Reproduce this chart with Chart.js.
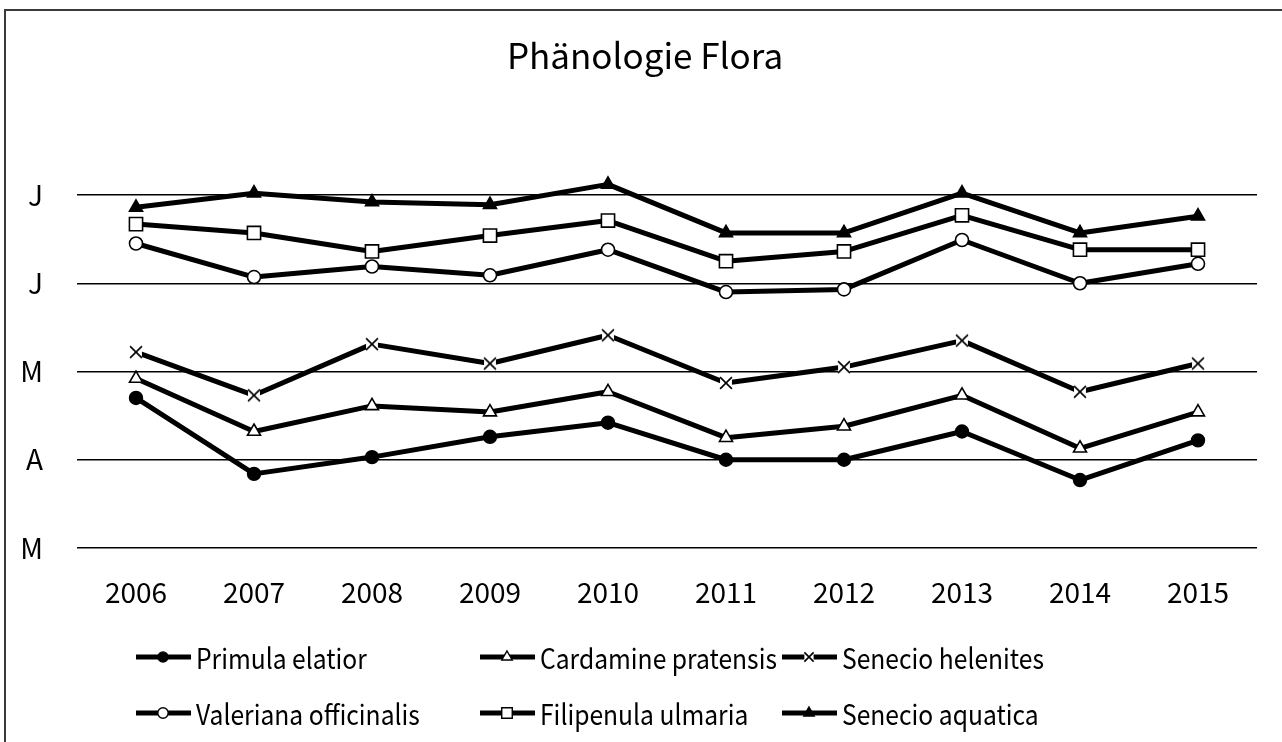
<!DOCTYPE html>
<html>
<head>
<meta charset="utf-8">
<script src="https://cdn.jsdelivr.net/npm/chart.js@4.4.0/dist/chart.umd.min.js"></script>
<style>
  html, body { margin: 0; padding: 0; background: #fff; }
  #chart { display: block; }
</style>
</head>
<body>
<canvas id="chart" width="1282" height="742"></canvas>
<script>
(function () {
    "use strict";

    // Data: years and flowering dates, in months after 1 March
    const years = ["2006", "2007", "2008", "2009", "2010", "2011", "2012", "2013", "2014", "2015"];
    const monthLabels = ["M", "A", "M", "J", "J"];
    const monthTicks = [0, 1, 2, 3, 4];

    const primulaElatior = [1.70, 0.84, 1.03, 1.26, 1.42, 1.00, 1.00, 1.32, 0.77, 1.22];
    const cardaminePratensis = [1.92, 1.32, 1.61, 1.54, 1.77, 1.25, 1.38, 1.73, 1.13, 1.54];
    const senecioHelenites = [2.22, 1.73, 2.31, 2.09, 2.41, 1.87, 2.05, 2.35, 1.77, 2.09];
    const valerianaOfficinalis = [3.45, 3.07, 3.19, 3.09, 3.38, 2.90, 2.93, 3.49, 3.00, 3.22];
    const filipenulaUlmaria = [3.67, 3.57, 3.36, 3.54, 3.71, 3.25, 3.36, 3.77, 3.38, 3.38];
    const senecioAquatica = [3.86, 4.02, 3.92, 3.89, 4.12, 3.57, 3.57, 4.02, 3.57, 3.76];

    const FONT = "'Noto Sans CJK JP', 'Noto Sans', sans-serif";

    // X marker with a white box behind, like the office chart
    function crossImage(size) {
        const c = document.createElement("canvas");
        c.width = size; c.height = size;
        const g = c.getContext("2d");
        const m = size / 2, a = size * 0.33;
        g.fillStyle = "#fff";
        g.fillRect(m - a, m - a, 2 * a, 2 * a);
        g.strokeStyle = "#000";
        g.lineWidth = 1.6;
        g.beginPath();
        g.moveTo(m - a, m - a); g.lineTo(m + a, m + a);
        g.moveTo(m + a, m - a); g.lineTo(m - a, m + a);
        g.stroke();
        return c;
    }

    const series = (label, data, style, radius, fill) => ({
        label: label,
        data: data,
        borderColor: "#000",
        borderWidth: 5,
        borderJoinStyle: "round",
        pointStyle: style,
        pointRadius: radius,
        pointHoverRadius: radius,
        pointBackgroundColor: fill,
        pointBorderColor: "#000",
        pointBorderWidth: 1.6,
        tension: 0,
    });

    const datasets = [
        series("Primula elatior", primulaElatior, "circle", 6.4, "#000"),
        series("Cardamine pratensis", cardaminePratensis, "triangle", 7.5, "#fff"),
        series("Senecio helenites", senecioHelenites, crossImage(18), 6, "#fff"),
        series("Valeriana officinalis", valerianaOfficinalis, "circle", 6.5, "#fff"),
        series("Filipenula ulmaria", filipenulaUlmaria, "rect", 9.3, "#fff"),
        series("Senecio aquatica", senecioAquatica, "triangle", 7.5, "#000"),
    ];

    // Frame round the whole chart
    const framePlugin = {
        id: "frame",
        beforeDraw(chart) {
            const ctx = chart.ctx;
            ctx.save();
            ctx.fillStyle = "#fff";
            ctx.fillRect(0, 0, chart.width, chart.height);
            ctx.strokeStyle = "#3a3a3a";
            ctx.lineWidth = 2;
            ctx.strokeRect(5, 10, chart.width + 10, chart.height + 10);
            ctx.restore();
        },
    };

    // Legend laid out in two rows with fixed columns
    const legendRows = [[0, 1, 2], [3, 4, 5]];
    const legendTextX = [196, 540, 842];
    const legendRowY = [657, 713];

    const gridLegendPlugin = {
        id: "gridLegend",
        afterDraw(chart) {
            const ctx = chart.ctx;
            ctx.save();
            legendRows.forEach((row, r) => {
                row.forEach((di, c) => {
                    const ds = chart.data.datasets[di];
                    const tx = legendTextX[c];
                    const y = legendRowY[r];
                    ctx.strokeStyle = "#000";
                    ctx.lineWidth = 5;
                    ctx.beginPath();
                    ctx.moveTo(tx - 60, y);
                    ctx.lineTo(tx - 5, y);
                    ctx.stroke();
                    ctx.fillStyle = ds.pointBackgroundColor;
                    ctx.strokeStyle = "#000";
                    ctx.lineWidth = 1.4;
                    const style = typeof ds.pointStyle === "string" ? ds.pointStyle : crossImage(14);
                    Chart.helpers.drawPoint(ctx, {
                        pointStyle: style,
                        radius: ds.pointRadius * 0.8,
                        rotation: 0,
                        borderWidth: 1.4,
                    }, tx - 33, y);
                    // condensed legend text
                    ctx.save();
                    ctx.translate(tx, y + 1);
                    ctx.scale(0.88, 1);
                    ctx.font = "28px " + FONT;
                    ctx.textBaseline = "middle";
                    ctx.textAlign = "left";
                    ctx.fillStyle = "#000";
                    ctx.fillText(ds.label, 0, 0);
                    ctx.restore();
                });
            });
            ctx.restore();
        },
    };

    const ctx = document.getElementById("chart").getContext("2d");
    new Chart(ctx, {
        type: "line",
        data: { labels: years, datasets: datasets },
        plugins: [framePlugin, gridLegendPlugin],
        options: {
            responsive: false,
            animation: false,
            devicePixelRatio: 1,
            layout: { padding: { left: 16, right: 8, top: 0, bottom: 114 } },
            plugins: {
                legend: { display: false },
                tooltip: { enabled: false },
                title: {
                    display: true,
                    text: "Phänologie Flora",
                    color: "#000",
                    font: { family: FONT, size: 35, weight: "normal" },
                    padding: { top: 35, bottom: 91.5 },
                },
            },
            scales: {
                x: {
                    offset: true,
                    grid: { display: false },
                    border: { display: false },
                    ticks: {
                        color: "#000",
                        font: { family: FONT, size: 28 },
                        padding: 20,
                        maxRotation: 0,
                    },
                    afterFit(scale) { scale.height = 80; },
                },
                y: {
                    min: 0,
                    max: 4.3,
                    grid: { color: "#000", lineWidth: 1.4, drawTicks: false },
                    border: { display: false },
                    ticks: {
                        color: "#000",
                        font: { family: FONT, size: 28 },
                        padding: 34,
                        callback: (v) => monthLabels[v],
                    },
                    afterBuildTicks(scale) {
                        scale.ticks = monthTicks.map((v) => ({ value: v }));
                    },
                    afterFit(scale) { scale.width = 61; },
                },
                // empty right margin so the plot ends where the reference does
                yRight: {
                    position: "right",
                    min: 0,
                    max: 4.3,
                    grid: { display: false },
                    border: { display: false },
                    ticks: { display: false },
                    afterFit(scale) { scale.width = 17; },
                },
            },
        },
    });
})();
</script>
</body>
</html>
